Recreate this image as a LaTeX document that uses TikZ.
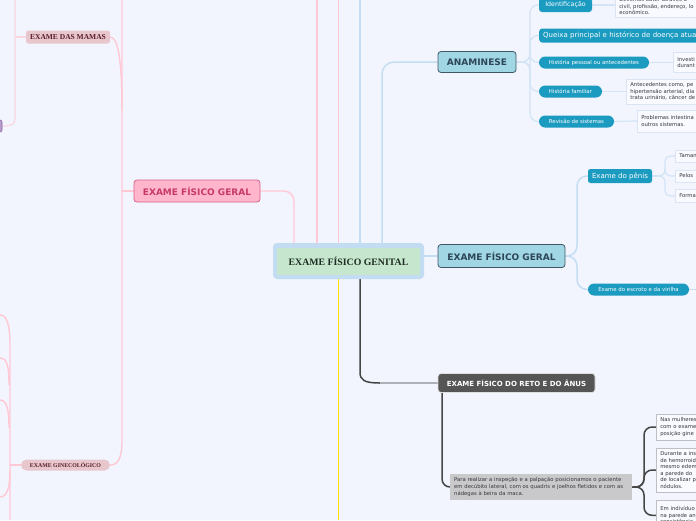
\documentclass[tikz,border=0pt]{standalone}
\usepackage{fontspec}
\setmainfont{DejaVu Sans}
\newfontfamily\serifb{Liberation Serif}
\definecolor{bgc}{RGB}{242,245,254}
\definecolor{pinkln}{RGB}{255,200,212}
\definecolor{pinkln2}{RGB}{250,214,222}
\definecolor{blueln}{RGB}{196,221,242}
\definecolor{blueln2}{RGB}{210,228,245}
\definecolor{yelln}{RGB}{255,224,0}
\definecolor{grayln}{RGB}{70,70,70}
\definecolor{grayln2}{RGB}{176,176,184}
\definecolor{cenout}{RGB}{194,220,241}
\definecolor{cenin}{RGB}{198,230,206}
\definecolor{centext}{RGB}{30,45,35}
\definecolor{pinkfill}{RGB}{255,182,204}
\definecolor{pinkdraw}{RGB}{214,96,136}
\definecolor{pinktext}{RGB}{200,57,106}
\definecolor{mamfill}{RGB}{231,198,204}
\definecolor{mamtext}{RGB}{90,28,44}
\definecolor{purpfill}{RGB}{184,156,204}
\definecolor{purpdraw}{RGB}{140,107,168}
\definecolor{anafill}{RGB}{161,215,228}
\definecolor{anadraw}{RGB}{62,88,104}
\definecolor{anatext}{RGB}{45,70,88}
\definecolor{pillfill}{RGB}{28,155,193}
\definecolor{tbfill}{RGB}{248,250,255}
\definecolor{tbdraw}{RGB}{218,228,242}
\definecolor{tbtext}{RGB}{55,55,60}
\definecolor{retofill}{RGB}{85,85,85}
\definecolor{gtfill}{RGB}{201,201,203}
\definecolor{wbdraw}{RGB}{190,190,196}
\pgfdeclarelayer{bgl}
\pgfsetlayers{bgl,main}
\begin{document}
\begin{tikzpicture}[x=1pt,y=-1pt,
  lnpink/.style={draw=pinkln,line width=1.4pt},
  lnpinklight/.style={draw=pinkln2,line width=1.1pt},
  lnblue/.style={draw=blueln,line width=1.5pt},
  lnbluelight/.style={draw=blueln2,line width=1.2pt},
  lngray/.style={draw=grayln,line width=1.5pt},
  headbox/.style={fill=anafill,draw=anadraw,line width=0.8pt,rounded corners=3pt,inner sep=0pt,text=anatext,font=\bfseries\fontsize{9}{10}\selectfont},
  pillbox/.style={fill=pillfill,draw=none,inner sep=0pt,text=white},
  txtbox/.style={fill=tbfill,draw=tbdraw,line width=0.6pt,anchor=west,align=left,inner xsep=4pt,inner ysep=2pt,text=tbtext,font=\fontsize{5.3}{6.6}\selectfont},
  whbox/.style={fill=tbfill,draw=wbdraw,line width=0.6pt,align=left,inner xsep=4pt,inner ysep=2pt,text=tbtext,font=\fontsize{5.3}{6.6}\selectfont}
]
\useasboundingbox (0,0) rectangle (696,520);
\begin{pgfonlayer}{bgl}
\fill[bgc] (0,0) rectangle (696,520);
\end{pgfonlayer}

% free ends
\coordinate (ptopA) at (122,0);
\coordinate (ptopB) at (317,0);
\coordinate (ptopC) at (338.5,0);
\coordinate (btop) at (360,0);
\coordinate (ybot) at (338.5,520);
\coordinate (mtop) at (15,0);
\coordinate (gA) at (0,315);
\coordinate (gB) at (0,358);
\coordinate (gC) at (0,400);
\coordinate (gD) at (0,497);
\coordinate (gbot) at (10,520);
\coordinate (escR) at (696,289.5);
\coordinate (rc) at (380,383);

% central node
\node[fill=cenout,rounded corners=4pt,minimum width=151pt,minimum height=36pt,inner sep=0pt] (gen) at (348.5,261) {};
\node[fill=cenin,minimum width=143pt,minimum height=27pt,inner sep=0pt,text=centext,font=\serifb\bfseries\fontsize{9.8}{11}\selectfont] (genin) at (348.5,261) {EXAME FÍSICO GENITAL};

% left side
\node[fill=pinkfill,draw=pinkdraw,line width=0.8pt,rounded corners=3pt,minimum width=126pt,minimum height=22pt,inner sep=0pt,text=pinktext,font=\bfseries\fontsize{9}{10}\selectfont] (pgeral) at (197,191) {EXAME FÍSICO GERAL};
\node[fill=mamfill,rounded corners=2.5pt,minimum width=84pt,minimum height=13pt,inner sep=0pt,text=mamtext,font=\serifb\bfseries\fontsize{7.5}{8}\selectfont] (mam) at (68,37) {EXAME DAS MAMAS};
\node[fill=purpfill,draw=purpdraw,line width=0.6pt,rounded corners=2pt,minimum width=12pt,minimum height=12pt,inner sep=0pt] (purp) at (-4,126) {};
\node[fill=mamfill,rounded corners=5.5pt,minimum width=89pt,minimum height=11pt,inner sep=0pt,text=mamtext,font=\serifb\bfseries\fontsize{5.85}{6}\selectfont] (gin) at (65.5,465) {EXAME GINECOLÓGICO};

% ANAMINESE
\node[headbox,minimum width=78pt,minimum height=21pt] (ana) at (477,62) {ANAMINESE};
\node[pillbox,rounded corners=3pt,minimum width=53pt,minimum height=14pt,font=\fontsize{6.3}{7}\selectfont] (idn) at (565.5,5) {Identificação};
\node[pillbox,rounded corners=3pt,anchor=west,text width=190pt,align=left,inner xsep=4pt,minimum height=14pt,font=\fontsize{7}{8}\selectfont] (qx) at (539,35.5) {Queixa principal e histórico de doença atual};
\node[pillbox,rounded corners=6pt,minimum width=110pt,minimum height=12pt,font=\fontsize{5.4}{6}\selectfont] (hp) at (594,62.5) {História pessoal ou antecedentes};
\node[pillbox,rounded corners=6pt,minimum width=63pt,minimum height=12pt,font=\fontsize{5.4}{6}\selectfont] (hf) at (570.5,91.5) {História familiar};
\node[pillbox,rounded corners=6pt,minimum width=75pt,minimum height=12pt,font=\fontsize{5.4}{6}\selectfont] (rv) at (576.5,121.5) {Revisão de sistemas};

\node[txtbox,text width=90pt,minimum height=23pt] (idt) at (615,6) {Devemos obter através d\\civil, profissão, endereço, lo\\econômico.};
\node[txtbox,text width=40pt,minimum height=20pt] (hpt) at (673,62.5) {Investi\\durant};
\node[txtbox,text width=80pt,minimum height=25pt] (hft) at (626,91.5) {Antecedentes como, pe\\hipertensão arterial, dia\\trata urinário, câncer de};
\node[txtbox,text width=70pt,minimum height=22pt] (rvt) at (637,121) {Problemas intestina\\outros sistemas.};

% EXAME FISICO GERAL right
\node[headbox,minimum width=127pt,minimum height=23pt] (rgeral) at (501.5,256) {EXAME FÍSICO GERAL};
\node[pillbox,rounded corners=2.5pt,minimum width=64pt,minimum height=14pt,font=\fontsize{7}{8}\selectfont] (pen) at (620,176) {Exame do pênis};
\node[pillbox,rounded corners=6pt,minimum width=101pt,minimum height=12pt,font=\fontsize{5.4}{6}\selectfont] (esc) at (638.5,289.5) {Exame do escroto e da virilha};
\node[txtbox,text width=40pt,minimum height=12pt] (tam) at (675,156) {Taman};
\node[txtbox,text width=40pt,minimum height=12pt] (pel) at (675,176) {Pelos};
\node[txtbox,text width=40pt,minimum height=13pt] (frm) at (675,196) {Forma};

% RETO
\node[fill=retofill,draw=white!88!black,line width=0.8pt,rounded corners=3pt,minimum width=157pt,minimum height=19pt,inner sep=0pt,text=white,font=\bfseries\fontsize{7}{8}\selectfont] (reto) at (516.5,383) {EXAME FÍSICO DO RETO E DO ÂNUS};
\node[fill=gtfill,draw=none,anchor=west,text width=174pt,align=left,inner xsep=4pt,inner ysep=2pt,minimum height=26pt,text=tbtext,font=\fontsize{5.3}{6.6}\selectfont] (grt) at (450,487) {Para realizar a inspeção e a palpação posicionamos o paciente\\em decúbito lateral, com os quadris e joelhos fletidos e com as\\nádegas à beira da maca.};
\node[whbox,anchor=west,text width=60pt,minimum height=26pt] (rb1) at (656,427) {Nas mulheres\\com o exame\\posição gine};
\node[whbox,anchor=west,text width=60pt,minimum height=44pt] (rb2) at (656,470) {Durante a ins\\de hemorroid\\mesmo edem\\a parede do\\de localizar p\\nódulos.};
\node[whbox,anchor=north west,text width=60pt,minimum height=30pt,inner ysep=3pt] (rb3) at (656,500) {Em indivíduo\\na parede an\\consistência};

\begin{pgfonlayer}{bgl}
% center connectors
\draw[lnpink,rounded corners=10pt] (pgeral.east) -| ([xshift=-54.5pt]gen.north);
\draw[lnpink] ([xshift=-31.5pt]gen.north) -- (ptopB);
\draw[lnpink] ([xshift=-10pt]gen.north) -- (ptopC);
\draw[lnblue] ([xshift=11.5pt]gen.north) -- (btop);
\draw[lnblue,rounded corners=12pt] ([xshift=33.5pt]gen.north) |- (ana.west);
\draw[draw=yelln,line width=1.5pt] ([xshift=-10pt]gen.south) -- (ybot);
\draw[lnblue] (gen.east |- rgeral.west) -- (rgeral.west);
\draw[lngray] ([xshift=11.5pt]gen.south) -- (360,372) .. controls (360,380) and (364,383) .. (rc);
\draw[draw=grayln2,line width=1.5pt] (rc) -- (reto.west);

% left connectors
\draw[lnpink] (pgeral.west) -- (122,191);
\draw[lnpink] (ptopA) -- (122,440) .. controls (122,458) and (118,465) .. (gin.east);
\draw[lnpink] (mam.east) .. controls (118,37) and (122,60) .. (122,110);
\draw[lnpinklight] (mtop) -- (15,119) .. controls (15,124) and (12,126) .. (purp.east);
\draw[lnpinklight] (15,37) -- (mam.west);
\draw[lnpink] (gin.west) -- (10,465);
\draw[lnpink] (gA) .. controls (7,315) and (10,325) .. (10,345) -- (gbot);
\draw[lnpink] (gB) .. controls (7,358) and (9,366) .. (9,385);
\draw[lnpink] (gC) .. controls (7,400) and (9,410) .. (9,428);
\draw[lnpink] (10,470) .. controls (10,488) and (7,497) .. (gD);

% anaminese children
\foreach \c in {idn,qx,hp,hf,rv}{
  \draw[lnbluelight,rounded corners=8pt] (ana.east) -- (530,62) |- (\c.west);
}
\draw[lnbluelight] (idn.east) -- (idt.west |- idn.east);
\draw[lnbluelight] (hp.east) -- (hpt.west);
\draw[lnbluelight] (hf.east) -- (hft.west);
\draw[lnbluelight] (rv.east) -- (rvt.west);

% exame fisico geral children
\draw[lnblue,rounded corners=10pt] (rgeral.east) -- (577,256) |- (pen.west);
\draw[lnblue,rounded corners=10pt] (rgeral.east) -- (577,256) |- (esc.west);
\draw[lnblue] (esc.east) -- (escR);
\foreach \c in {tam,pel,frm}{
  \draw[lnbluelight,rounded corners=6pt] (pen.east) -- (665,176) |- (\c.west);
}

% reto children
\draw[lngray,rounded corners=8pt] ([xshift=-74.5pt]reto.south) |- (grt.west);
\draw[lngray,rounded corners=8pt] (grt.east) -- (644,487) |- (rb1.west);
\draw[lngray,rounded corners=8pt] (grt.east) -- (644,487) |- (rb2.west);
\draw[lngray,rounded corners=8pt] (grt.east) -- (644,487) |- (rb3.west);
\end{pgfonlayer}
\end{tikzpicture}
\end{document}
